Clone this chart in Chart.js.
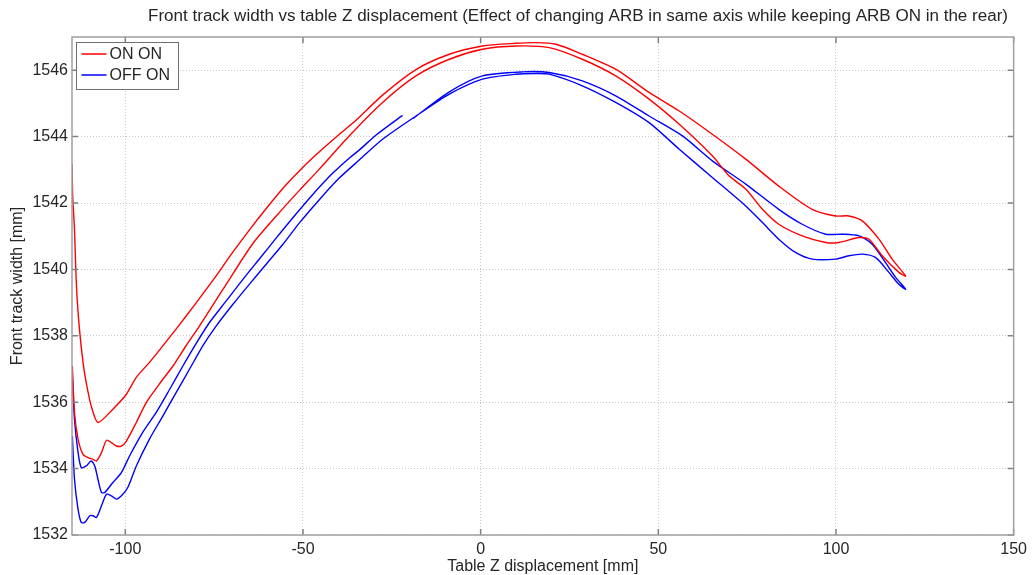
<!DOCTYPE html>
<html>
<head>
<meta charset="utf-8">
<script src="https://cdn.jsdelivr.net/npm/chart.js@4.4.0/dist/chart.umd.min.js"></script>
<style>
  html, body { margin: 0; padding: 0; background: #fff; }
  #chart { display: block; }
</style>
</head>
<body>
<canvas id="chart" width="1032" height="575"></canvas>
<script>
// --- 1. data ---
const titleText = 'Front track width vs table Z displacement (Effect of changing ARB in same axis while keeping ARB ON in the rear)';
const xLabel = 'Table Z displacement [mm]';
const yLabel = 'Front track width [mm]';
const xTicks = [-100, -50, 0, 50, 100, 150];
const yTicks = [1532, 1534, 1536, 1538, 1540, 1542, 1544, 1546];
const seriesNames = ['ON ON', 'OFF ON'];

// ON ON: out along the upper-left branch, back along the lower one
const onOnPoints = [
  [-115.0, 1543.17], [-114.8, 1542.21], [-114.3, 1541.21], [-114.0, 1540.21], [-113.6, 1539.20],
  [-112.9, 1538.20], [-111.9, 1537.20], [-111.0, 1536.59], [-109.6, 1535.89], [-107.7, 1535.39],
  [-103.5, 1535.79], [-99.7, 1536.24], [-96.9, 1536.75], [-93.2, 1537.20], [-90.0, 1537.62],
  [-85.0, 1538.30], [-80.0, 1539.00], [-75.0, 1539.72], [-70.0, 1540.48], [-65.0, 1541.20],
  [-60.0, 1541.88], [-55.0, 1542.52], [-50.0, 1543.08], [-45.0, 1543.58], [-40.0, 1544.05],
  [-35.0, 1544.50], [-27.6, 1545.25], [-18.2, 1546.02], [-8.8, 1546.48],
  [0.5, 1546.73], [9.9, 1546.81], [15.5, 1546.83], [21.2, 1546.78], [28.6, 1546.48],
  [38.0, 1546.03], [47.4, 1545.33], [55.9, 1544.77], [65.2, 1544.07], [74.6, 1543.32],
  [83.9, 1542.51], [93.3, 1541.81], [99.9, 1541.61], [103.6, 1541.61], [107.4, 1541.46],
  [112.1, 1540.91], [115.8, 1540.31], [119.6, 1539.80],
  [117.7, 1539.91], [113.0, 1540.41], [109.3, 1540.91], [106.5, 1540.96], [100.8, 1540.81],
  [97.1, 1540.81], [90.5, 1541.01], [83.9, 1541.36], [79.3, 1541.81], [74.6, 1542.42],
  [69.9, 1542.82], [65.2, 1543.42], [55.9, 1544.37], [47.4, 1545.13], [38.0, 1545.83],
  [28.6, 1546.33], [19.3, 1546.68], [9.9, 1546.73], [0.5, 1546.63], [-8.8, 1546.33],
  [-18.2, 1545.83], [-27.6, 1545.03], [-37.0, 1544.02], [-45.4, 1543.02], [-51.0, 1542.38],
  [-57.5, 1541.61], [-64.1, 1540.78], [-71.2, 1539.62], [-75.4, 1538.92], [-79.1, 1538.30],
  [-82.9, 1537.70], [-86.6, 1537.09], [-90.4, 1536.55], [-94.1, 1535.99], [-96.9, 1535.39],
  [-99.7, 1534.83], [-101.1, 1534.68], [-102.5, 1534.68], [-103.9, 1534.78], [-105.3, 1534.85],
  [-106.7, 1534.48], [-108.1, 1534.23], [-109.1, 1534.28], [-110.5, 1534.33], [-111.9, 1534.43],
  [-113.3, 1534.89], [-114.3, 1535.69], [-114.9, 1537.09]
];

// OFF ON: same loop, the upper-left branch stops short near -22 mm
const offOnPoints = [
  [-114.9, 1536.79], [-114.3, 1535.49], [-113.3, 1534.49], [-112.4, 1534.03], [-111.0, 1534.08],
  [-109.6, 1534.23], [-108.6, 1534.08], [-107.7, 1533.68], [-106.7, 1533.28], [-105.8, 1533.28],
  [-103.5, 1533.58], [-101.1, 1533.88], [-98.8, 1534.38], [-95.1, 1535.09], [-91.3, 1535.69],
  [-87.5, 1536.39], [-83.8, 1537.09], [-80.0, 1537.78], [-76.3, 1538.40], [-71.6, 1539.05],
  [-66.9, 1539.70], [-62.0, 1540.35], [-57.5, 1540.95], [-52.9, 1541.55], [-47.3, 1542.25],
  [-41.6, 1542.90], [-37.0, 1543.35], [-34.1, 1543.60], [-29.4, 1544.05], [-22.0, 1544.64],
  [-20.5, null],
  [-19.0, 1544.55], [-8.8, 1545.35], [0.5, 1545.83], [11.8, 1545.95], [19.3, 1545.93],
  [28.6, 1545.68], [38.0, 1545.23], [47.4, 1544.62], [56.8, 1544.02], [65.2, 1543.27],
  [74.6, 1542.57], [83.9, 1541.81], [90.5, 1541.36], [97.1, 1541.06], [101.7, 1541.06],
  [106.5, 1541.01], [110.2, 1540.76], [113.9, 1540.21], [116.8, 1539.76], [119.6, 1539.40],
  [117.7, 1539.55], [114.9, 1539.91], [111.1, 1540.36], [107.4, 1540.46], [103.6, 1540.41],
  [99.9, 1540.31], [93.3, 1540.31], [88.6, 1540.51], [83.9, 1540.91], [79.3, 1541.41],
  [74.6, 1541.91], [65.2, 1542.77], [55.9, 1543.62], [47.4, 1544.42], [38.0, 1545.03],
  [28.6, 1545.53], [19.3, 1545.88], [15.5, 1545.90], [9.9, 1545.88], [0.5, 1545.73],
  [-8.8, 1545.28], [-18.2, 1544.62], [-27.6, 1543.92], [-34.1, 1543.30], [-39.8, 1542.75],
  [-45.4, 1542.10], [-51.0, 1541.40], [-55.7, 1540.75], [-60.0, 1540.20], [-65.1, 1539.55],
  [-69.7, 1538.95], [-74.4, 1538.30], [-78.2, 1537.70], [-81.9, 1537.00], [-85.7, 1536.29],
  [-89.4, 1535.59], [-93.2, 1534.89], [-96.9, 1534.08], [-99.3, 1533.43], [-101.1, 1533.18],
  [-102.5, 1533.08], [-103.9, 1533.18], [-105.3, 1533.23], [-106.7, 1532.88], [-108.1, 1532.53],
  [-109.1, 1532.58], [-110.0, 1532.58], [-111.4, 1532.38], [-112.4, 1532.38], [-113.3, 1532.78],
  [-114.3, 1533.68], [-114.9, 1534.98]
];

const FONT = '"Liberation Sans", Arial, sans-serif';
const TEXT_COLOR = '#262626';

function toXY(list) {
  return list.map(p => ({ x: p[0], y: p[1] }));
}

// --- 2. matlab style frame, inside ticks, legend and title ---
const matlabAxes = {
  id: 'matlabAxes',
  afterDraw(chart) {
    const { ctx, chartArea: a } = chart;
    const xs = chart.scales.x, ys = chart.scales.y;
    ctx.save();

    // tick marks pointing inward on all four sides
    ctx.strokeStyle = '#808080';
    ctx.lineWidth = 1.5;
    ctx.beginPath();
    xTicks.forEach(v => {
      const px = xs.getPixelForValue(v);
      ctx.moveTo(px, a.bottom); ctx.lineTo(px, a.bottom - 6);
      ctx.moveTo(px, a.top); ctx.lineTo(px, a.top + 6);
    });
    yTicks.forEach(v => {
      const py = ys.getPixelForValue(v);
      ctx.moveTo(a.left, py); ctx.lineTo(a.left + 6, py);
      ctx.moveTo(a.right, py); ctx.lineTo(a.right - 6, py);
    });
    ctx.stroke();

    ctx.strokeStyle = '#a0a0a0';
    ctx.lineWidth = 1.5;
    ctx.strokeRect(a.left, a.top, a.width, a.height);

    // legend box, top-left inside the axes
    const lx = a.left + 4.5, ly = a.top + 5.5;
    ctx.fillStyle = '#fff';
    ctx.fillRect(lx, ly, 102, 47);
    ctx.strokeStyle = '#707070';
    ctx.lineWidth = 1;
    ctx.strokeRect(lx, ly, 102, 47);
    ctx.font = '16px ' + FONT;
    ctx.textBaseline = 'middle';
    ctx.textAlign = 'left';
    chart.data.datasets.forEach((ds, i) => {
      const cy = ly + 11.5 + i * 21;
      ctx.strokeStyle = ds.borderColor;
      ctx.lineWidth = 1.5;
      ctx.beginPath();
      ctx.moveTo(lx + 5, cy); ctx.lineTo(lx + 30, cy);
      ctx.stroke();
      ctx.fillStyle = TEXT_COLOR;
      ctx.fillText(ds.label, lx + 33, cy + 1);
    });

    // title, squeezed to the width it has in the figure
    ctx.font = '16px ' + FONT;
    ctx.textAlign = 'center';
    ctx.fillStyle = TEXT_COLOR;
    const w = ctx.measureText(titleText).width;
    ctx.translate(578, 17);
    ctx.scale(860 / w, 1);
    ctx.fillText(titleText, 0, 0);

    ctx.restore();
  }
};

// --- 3. chart ---
new Chart(document.getElementById('chart'), {
  type: 'scatter',
  data: {
    datasets: [
      {
        label: seriesNames[0],
        data: toXY(onOnPoints),
        borderColor: '#ff0000',
        backgroundColor: '#ff0000',
        showLine: true,
        borderWidth: 1.4,
        pointRadius: 0,
        tension: 0.25,
        spanGaps: false
      },
      {
        label: seriesNames[1],
        data: toXY(offOnPoints),
        borderColor: '#0000ff',
        backgroundColor: '#0000ff',
        showLine: true,
        borderWidth: 1.4,
        pointRadius: 0,
        tension: 0.25,
        spanGaps: false
      }
    ]
  },
  options: {
    responsive: false,
    animation: false,
    layout: { padding: { top: 37, right: 17, left: 0, bottom: 0 } },
    plugins: {
      legend: { display: false },
      title: { display: false },
      tooltip: { enabled: false }
    },
    scales: {
      x: {
        type: 'linear',
        min: -115,
        max: 150,
        afterBuildTicks: s => { s.ticks = xTicks.map(v => ({ value: v })); },
        afterFit: s => { s.height = 40; },
        grid: { color: '#c8c8c8', lineWidth: 1, drawTicks: false },
        border: { display: false, dash: [1, 2] },
        ticks: {
          padding: 5,
          maxRotation: 0,
          autoSkip: false,
          color: TEXT_COLOR,
          font: { family: FONT, size: 16 },
          callback: v => String(v)
        },
        title: {
          display: true,
          text: xLabel,
          color: TEXT_COLOR,
          font: { family: FONT, size: 16 },
          padding: { top: 0, bottom: -1 }
        }
      },
      y: {
        type: 'linear',
        min: 1532,
        max: 1547,
        afterBuildTicks: s => { s.ticks = yTicks.map(v => ({ value: v })); },
        afterFit: s => { s.width = 72; },
        grid: { color: '#c8c8c8', lineWidth: 1, drawTicks: false },
        border: { display: false, dash: [1, 2] },
        ticks: {
          padding: 4,
          autoSkip: false,
          color: TEXT_COLOR,
          font: { family: FONT, size: 16 },
          callback: v => String(v)
        },
        title: {
          display: true,
          text: yLabel,
          color: TEXT_COLOR,
          font: { family: FONT, size: 16 },
          padding: { top: 8, bottom: 0 }
        }
      }
    }
  },
  plugins: [matlabAxes]
});
</script>
</body>
</html>
